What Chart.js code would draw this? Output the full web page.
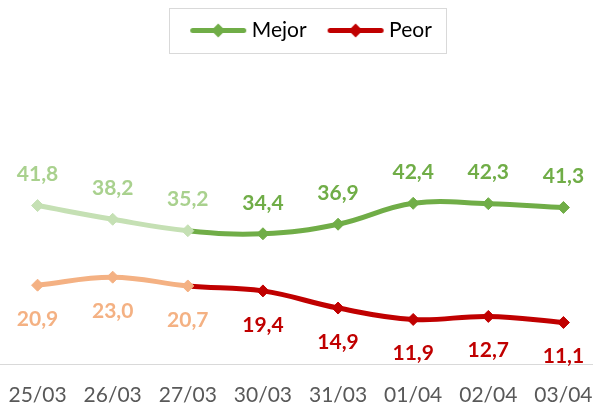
<!DOCTYPE html>
<html>
<head>
<meta charset="utf-8">
<script src="https://cdn.jsdelivr.net/npm/chart.js@4/dist/chart.umd.min.js"></script>
<style>
html,body{margin:0;padding:0;background:#fff;overflow:hidden;width:593px;height:406px;position:relative;}
#wrap{position:absolute;left:-7px;top:0;width:615px;height:408px;}
</style>
</head>
<body>
<div id="wrap"><canvas id="c" width="615" height="408"></canvas></div>
<script>
// ---- data ----
const categories = ['25/03','26/03','27/03','30/03','31/03','01/04','02/04','03/04'];
const mejorValues = [41.8, 38.2, 35.2, 34.4, 36.9, 42.4, 42.3, 41.3];
const peorValues  = [20.9, 23.0, 20.7, 19.4, 14.9, 11.9, 12.7, 11.1];
const seriesNames = ['Mejor', 'Peor'];
const fadedCount = 3; // first points drawn in lighter tone

// ---- styles ----
const GREEN = '#70AD47', GREEN_LIGHT = '#C5E0B4', GREEN_LABEL_LIGHT = '#A9D18E';
const RED = '#C00000', ORANGE_LIGHT = '#F4B183';

function fmt(v){ return v.toFixed(1).replace('.', ','); }
function perPoint(n, light, dark){ return Array.from({length:n}, (_, i) => i < fadedCount ? light : dark); }

function legendImage(color){
  const c = document.createElement('canvas');
  c.width = 74; c.height = 17;
  const g = c.getContext('2d');
  g.strokeStyle = color; g.lineWidth = 5; g.lineCap = 'round';
  g.beginPath(); g.moveTo(19.5, 8.5); g.lineTo(70.5, 8.5); g.stroke();
  g.fillStyle = color;
  const cx = 45, cy = 8.5, r = 7;
  g.beginPath(); g.moveTo(cx - r, cy); g.lineTo(cx, cy - r); g.lineTo(cx + r, cy); g.lineTo(cx, cy + r); g.closePath(); g.fill();
  return c;
}
const legendImgs = [legendImage(GREEN), legendImage(RED)];

const valueLabels = {
  id: 'valueLabels',
  afterDatasetsDraw(chart, args, opts){
    const ctx = chart.ctx;
    chart.data.datasets.forEach((ds, di) => {
      const meta = chart.getDatasetMeta(di);
      meta.data.forEach((pt, i) => {
        ctx.save();
        ctx.font = 'bold 21px Lato';
        ctx.fillStyle = opts.colors[di][i];
        ctx.textAlign = 'center';
        ctx.textBaseline = 'middle';
        ctx.fillText(fmt(ds.data[i]), pt.x, pt.y + opts.offsets[di]);
        ctx.restore();
      });
    });
  }
};

const legendFrame = {
  id: 'legendFrame',
  afterLayout(chart){
    const lg = chart.legend;
    if (!lg) return;
    lg.left += 5; lg.right += 5;
    lg.top += 10; lg.bottom += 10;
  },
  afterDraw(chart){
    const lg = chart.legend;
    if (!lg || !lg.legendHitBoxes || !lg.legendHitBoxes.length) return;
    const hb = lg.legendHitBoxes;
    const first = hb[0], last = hb[hb.length - 1];
    const cy = first.top + 10.5;
    const x0 = Math.round(first.left - 10) + 0.5;
    const x1 = Math.round(last.left + last.width + 14) + 0.5;
    const y0 = Math.round(cy - 22.5) + 0.5;
    const y1 = Math.round(cy + 22.5) + 0.5;
    const ctx = chart.ctx;
    ctx.save();
    ctx.strokeStyle = '#D9D9D9';
    ctx.lineWidth = 1;
    ctx.strokeRect(x0, y0, x1 - x0, y1 - y0);
    ctx.restore();
  }
};

const segColor = (light, dark) => ctx => (ctx.p1DataIndex < fadedCount ? light : dark);

new Chart(document.getElementById('c'), {
  type: 'line',
  data: {
    labels: categories,
    datasets: [
      {
        label: seriesNames[0],
        data: mejorValues,
        borderColor: GREEN,
        borderWidth: 5,
        tension: 0.4,
        segment: { borderColor: segColor(GREEN_LIGHT, GREEN) },
        pointStyle: 'rectRot',
        pointRadius: 6,
        pointBorderWidth: 1,
        pointBackgroundColor: perPoint(mejorValues.length, GREEN_LIGHT, GREEN),
        pointBorderColor: perPoint(mejorValues.length, GREEN_LIGHT, GREEN),
        fill: false
      },
      {
        label: seriesNames[1],
        data: peorValues,
        borderColor: RED,
        borderWidth: 5,
        tension: 0.4,
        segment: { borderColor: segColor(ORANGE_LIGHT, RED) },
        pointStyle: 'rectRot',
        pointRadius: 6,
        pointBorderWidth: 1,
        pointBackgroundColor: perPoint(peorValues.length, ORANGE_LIGHT, RED),
        pointBorderColor: perPoint(peorValues.length, ORANGE_LIGHT, RED),
        fill: false
      }
    ]
  },
  options: {
    responsive: false,
    animation: false,
    devicePixelRatio: 1,
    layout: { padding: 0 },
    scales: {
      x: {
        type: 'category',
        offset: true,
        grid: { display: false, drawTicks: true, tickLength: 18 },
        border: { display: true, color: '#D9D9D9', width: 1 },
        ticks: { color: '#595959', font: { family: 'Lato', size: 21 }, padding: 0, maxRotation: 0, autoSkip: false }
      },
      y: { display: false, min: 0, max: 85 }
    },
    plugins: {
      tooltip: { enabled: false },
      legend: {
        position: 'top',
        labels: {
          usePointStyle: true,
          pointStyleWidth: 62,
          padding: 10,
          color: '#000000',
          font: { family: 'Lato', size: 21 },
          generateLabels(chart){
            return chart.data.datasets.map((ds, i) => ({
              text: ds.label,
              pointStyle: legendImgs[i],
              fillStyle: 'rgba(0,0,0,0)',
              strokeStyle: 'rgba(0,0,0,0)',
              lineWidth: 0,
              fontColor: '#000000',
              datasetIndex: i,
              hidden: false
            }));
          }
        }
      },
      valueLabels: {
        offsets: [-31, 34],
        colors: [
          perPoint(mejorValues.length, GREEN_LABEL_LIGHT, GREEN),
          perPoint(peorValues.length, ORANGE_LIGHT, RED)
        ]
      }
    }
  },
  plugins: [valueLabels, legendFrame]
});
</script>
</body>
</html>
